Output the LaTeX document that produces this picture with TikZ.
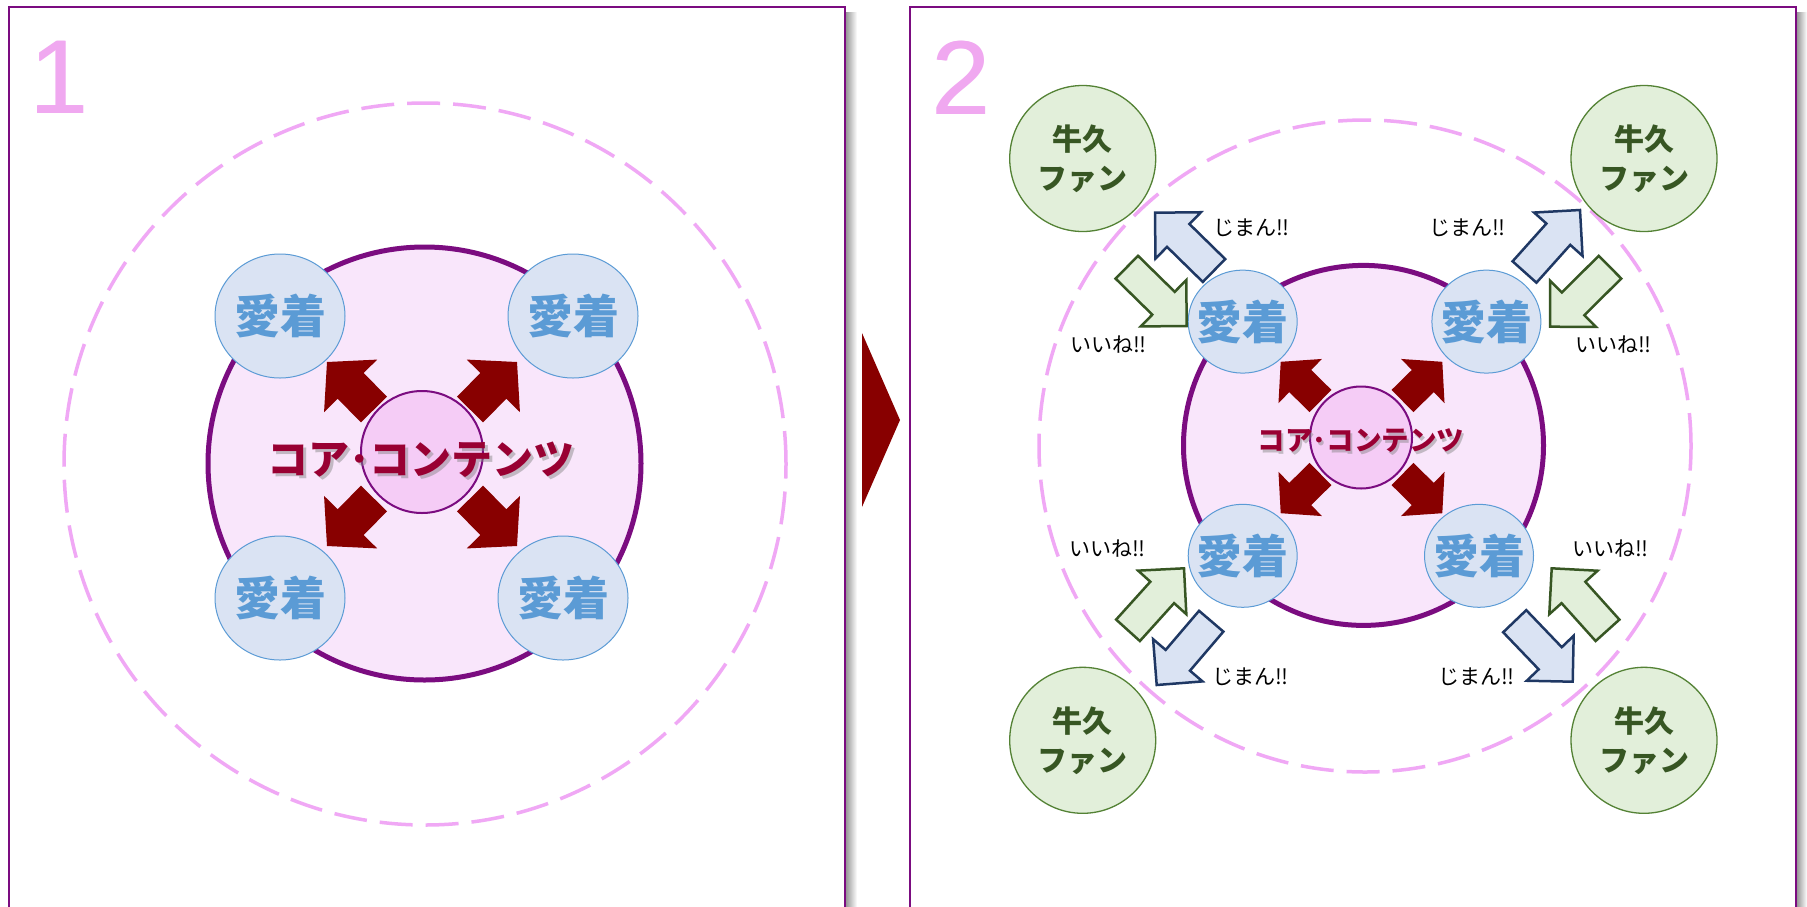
\documentclass[tikz,border=0pt]{standalone}
\usepackage{fontspec}
\newfontfamily\jp{Noto Sans CJK JP}
\newfontfamily\numfont{Liberation Sans}
\usetikzlibrary{calc,shapes.geometric}
\definecolor{pborder}{HTML}{7B0C80}
\definecolor{dashpink}{HTML}{F0A8F5}
\definecolor{corefill}{HTML}{F9E6FB}
\definecolor{innerfill}{HTML}{F5CCF6}
\definecolor{aifill}{HTML}{DAE3F3}
\definecolor{ailine}{HTML}{5B9BD5}
\definecolor{fanfill}{HTML}{E2EFDA}
\definecolor{fanline}{HTML}{548235}
\definecolor{fantext}{HTML}{375623}
\definecolor{navyline}{HTML}{1F3864}
\definecolor{darkred}{HTML}{880000}
\definecolor{coretext}{HTML}{990033}
\definecolor{numpink}{HTML}{F0A8F0}
% #1 name, #2 style, #3 tail, #4 tip, #5 head length, #6 head half-width, #7 shaft half-width
\newcommand{\blkarrow}[7]{%
  \coordinate (#1-h) at ($(#4)!#5pt!(#3)$);
  \path[#2] ($(#3)!#7pt!90:(#4)$) -- ($(#1-h)!#7pt!90:(#4)$) -- ($(#1-h)!#6pt!90:(#4)$)
    -- (#4) -- ($(#1-h)!#6pt!-90:(#4)$) -- ($(#1-h)!#7pt!-90:(#4)$) -- ($(#3)!#7pt!-90:(#4)$) -- cycle;
}
\begin{document}
\begin{tikzpicture}[x=1pt,y=-1pt,
  panel/.style={draw=pborder, line width=2.5pt, fill=white},
  dashring/.style={circle, draw=dashpink, line width=3.5pt, dash pattern=on 33pt off 13pt, inner sep=0},
  corering/.style={circle, draw=pborder, line width=5pt, fill=corefill, inner sep=0},
  innerring/.style={circle, draw=pborder, line width=2pt, fill=innerfill, inner sep=0},
  aitext/.style={text=ailine, inner sep=0, font=\jp\bfseries\fontsize{46}{50}\selectfont},
  aichaku/.style={ellipse, draw=ailine, line width=1pt, fill=aifill, inner sep=0,
     label={[aitext]center:愛着}},
  fan/.style={circle, draw=fanline, line width=1.3pt, fill=fanfill, text=fantext, align=center,
     minimum size=146pt, inner sep=0, font=\jp\bfseries\fontsize{30}{39}\selectfont},
  redarrow/.style={fill=darkred},
  bluearrow/.style={fill=aifill, draw=navyline, line width=2.5pt},
  greenarrow/.style={fill=fanfill, draw=fantext, line width=2.5pt},
  lbl/.style={font=\jp\fontsize{21}{24}\selectfont, text=black, inner sep=0},
  numlbl/.style={font=\numfont\fontsize{105}{105}\selectfont, text=numpink, inner sep=0, anchor=north west},
  coretxt/.style={font=\jp\bfseries\fontsize{#1}{#1}\selectfont, inner sep=0}
]
\useasboundingbox (0,0) rectangle (1807,906);
\clip (0,0) rectangle (1807,906);
\fill[white] (0,0) rectangle (1807,906);

% panel shadows
\shade[left color=black!40, right color=white] (846,12) rectangle (857,930);
\shade[left color=black!40, right color=white] (1797,12) rectangle (1807,930);
% panels
\draw[panel] (9,7) rectangle (845,940);
\draw[panel] (910,7) rectangle (1796,940);

% middle triangle
\fill[darkred] (862,333) -- (900,420) -- (862,507) -- cycle;

% numbers (drawn twice for a slightly heavier stroke)
\foreach \dx in {0,1.5}{
  \node[numlbl] (n1-\dx) at (29+\dx,41) {1};
  \node[numlbl] (n2-\dx) at (931+\dx,41) {2};
}

% ===== Panel 1 =====
\node[dashring, minimum size=722pt] (L-ring) at (425,464) {};
\node[corering, minimum size=433pt] (L-core) at (424.5,463.5) {};
\coordinate (Lc) at (422,454);
\foreach \nm/\sx/\sy in {tl/-1/-1, tr/1/-1, bl/-1/1, br/1/1}{
  \coordinate (L-\nm-tail) at ($(Lc)+(48*\sx,44.5*\sy)$);
  \coordinate (L-\nm-tip) at ($(Lc)+(95*\sx,92*\sy)$);
  \blkarrow{L-\nm}{redarrow}{L-\nm-tail}{L-\nm-tip}{33.6}{37.4}{18.3}
}
\node[innerring, minimum size=122pt] (L-inner) at (422,452) {};
\node[coretxt=41, text=gray, opacity=0.45] (L-txt-sh) at (424,463) {コア･コンテンツ};
\node[coretxt=41, text=coretext] (L-txt) at (421,460) {コア･コンテンツ};
\node[aichaku, minimum width=130pt, minimum height=124pt] (L-a1) at (280,316) {};
\node[aichaku, minimum width=130pt, minimum height=124pt] (L-a2) at (573,316) {};
\node[aichaku, minimum width=130pt, minimum height=124pt] (L-a3) at (280,598) {};
\node[aichaku, minimum width=130pt, minimum height=124pt] (L-a4) at (563,598) {};

% ===== Panel 2 =====
\node[dashring, minimum size=652pt] (R-ring) at (1365,446) {};
\node[corering, minimum size=360pt] (R-core) at (1363.5,445.4) {};
\coordinate (Rc) at (1361.5,437.5);
\foreach \nm/\sx/\sy in {tl/-1/-1, tr/1/-1, bl/-1/1, br/1/1}{
  \coordinate (R-\nm-tail) at ($(Rc)+(41*\sx,36.5*\sy)$);
  \coordinate (R-\nm-tip) at ($(Rc)+(80.8*\sx,75.7*\sy)$);
  \blkarrow{R-\nm}{redarrow}{R-\nm-tail}{R-\nm-tip}{27.4}{31}{15.6}
}
\node[innerring, minimum size=102pt] (R-inner) at (1361,437.5) {};
\node[coretxt=27.5, text=gray, opacity=0.45] (R-txt-sh) at (1363,443.5) {コア･コンテンツ};
\node[coretxt=27.5, text=coretext] (R-txt) at (1361,441) {コア･コンテンツ};
\node[aichaku, minimum width=109pt, minimum height=103pt] (R-a1) at (1242.7,321.6) {};
\node[aichaku, minimum width=109pt, minimum height=103pt] (R-a2) at (1486.4,321.6) {};
\node[aichaku, minimum width=109pt, minimum height=103pt] (R-a3) at (1242.7,555.8) {};
\node[aichaku, minimum width=109pt, minimum height=103pt] (R-a4) at (1479,555.8) {};

% fans
\node[fan] (F1) at (1082.7,158.5) {牛久\\ファン};
\node[fan] (F2) at (1644,158.5) {牛久\\ファン};
\node[fan] (F3) at (1082.7,740.3) {牛久\\ファン};
\node[fan] (F4) at (1644,740.3) {牛久\\ファン};

% exchange arrows
\coordinate (B1-tail) at (1214,270.5);   \coordinate (B1-tip) at (1155,212.7);
\coordinate (G1-tail) at (1126.8,267.2); \coordinate (G1-tip) at (1186.7,326);
\coordinate (B2-tail) at (1524.5,272);   \coordinate (B2-tip) at (1580,210);
\coordinate (G2-tail) at (1610,267.2);   \coordinate (G2-tip) at (1550,326.7);
\coordinate (G3-tail) at (1128,630.3);   \coordinate (G3-tip) at (1184,568.3);
\coordinate (B3-tail) at (1211.2,621.2); \coordinate (B3-tip) at (1156.7,685);
\coordinate (G4-tail) at (1607.5,630.3); \coordinate (G4-tip) at (1551.7,568.3);
\coordinate (B4-tail) at (1514.7,621.2); \coordinate (B4-tip) at (1572.7,681.7);
\foreach \k in {1,2,3,4}{
  \blkarrow{B\k}{bluearrow}{B\k-tail}{B\k-tip}{32.5}{32.5}{16}
  \blkarrow{G\k}{greenarrow}{G\k-tail}{G\k-tip}{32.5}{32.5}{16}
}

% labels
\node[lbl] (j1) at (1251,228) {じまん‼};
\node[lbl] (j2) at (1467.5,228) {じまん‼};
\node[lbl] (j3) at (1250,676.7) {じまん‼};
\node[lbl] (j4) at (1476.7,676.7) {じまん‼};
\node[lbl] (i1) at (1108,345) {いいね‼};
\node[lbl] (i2) at (1613.7,345) {いいね‼};
\node[lbl] (i3) at (1107.7,548.3) {いいね‼};
\node[lbl] (i4) at (1610,548.3) {いいね‼};
\end{tikzpicture}
\end{document}
